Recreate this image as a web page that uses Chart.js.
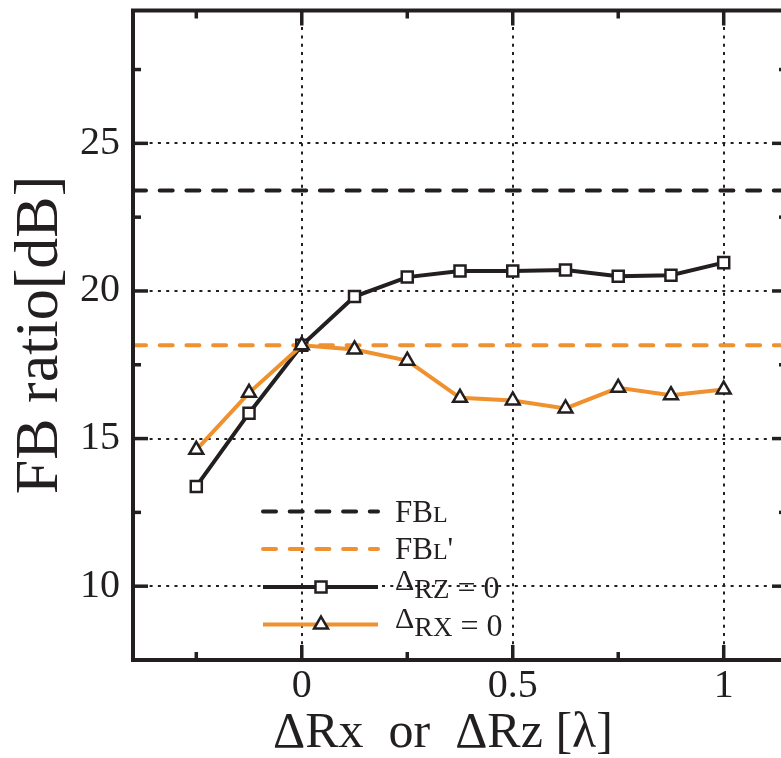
<!DOCTYPE html>
<html>
<head>
<meta charset="utf-8">
<script src="https://cdn.jsdelivr.net/npm/chart.js@4/dist/chart.umd.min.js"></script>
<style>
  html, body { margin: 0; padding: 0; background: #fff; overflow: hidden; }
  #wrap { width: 800px; height: 758px; }
</style>
</head>
<body>
<div id="wrap"><canvas id="c" width="800" height="758"></canvas></div>
<script>
// Offset along the axis, in wavelengths
const OFFSETS = [-0.25, -0.125, 0, 0.125, 0.25, 0.375, 0.5, 0.625, 0.75, 0.875, 1];
// FB ratio [dB] with ΔRz = 0 (sweeping ΔRx)
const FB_RZ0 = [13.38, 15.86, 18.16, 19.81, 20.47, 20.68, 20.68, 20.71, 20.50, 20.53, 20.96];
// FB ratio [dB] with ΔRx = 0 (sweeping ΔRz)
const FB_RX0 = [14.62, 16.55, 18.16, 18.02, 17.64, 16.38, 16.29, 16.02, 16.72, 16.47, 16.66];
// Reference levels
const FB_L = 23.4;
const FB_L_PRIME = 18.16;

const X_RANGE = [-0.4, 1.15];
const Y_RANGE = [7.5, 29.5];
const X_TICKS = [-0.25, 0, 0.25, 0.5, 0.75, 1];
const X_LABELED = [0, 0.5, 1];
const Y_TICKS = [10, 12.5, 15, 17.5, 20, 22.5, 25, 27.5];
const Y_LABELED = [10, 15, 20, 25];

const BLACK = '#231f20';
const ORANGE = '#f0912f';
const SERIF = "'Liberation Serif', 'Times New Roman', serif";

const toPts = (xs, ys) => xs.map((x, i) => ({ x, y: ys[i] }));
const hline = (v) => X_RANGE.map(x => ({ x, y: v }));

// Frame, inward tick marks, axis titles and legend
const decorations = {
  id: 'decorations',
  afterDatasetsDraw(chart) {
    const { ctx, chartArea: a, scales: { x, y } } = chart;
    ctx.save();
    ctx.strokeStyle = BLACK;
    ctx.lineCap = 'butt';
    ctx.lineWidth = 3.5;
    X_TICKS.forEach(v => {
      const px = x.getPixelForValue(v);
      const len = X_LABELED.includes(v) ? 15 : 8;
      ctx.beginPath();
      ctx.moveTo(px, a.bottom); ctx.lineTo(px, a.bottom - len);
      ctx.moveTo(px, a.top); ctx.lineTo(px, a.top + len);
      ctx.stroke();
    });
    Y_TICKS.forEach(v => {
      const py = y.getPixelForValue(v);
      const len = Y_LABELED.includes(v) ? 15 : 8;
      ctx.beginPath();
      ctx.moveTo(a.left, py); ctx.lineTo(a.left + len, py);
      ctx.stroke();
      ctx.beginPath();
      ctx.moveTo(a.right - len, py); ctx.lineTo(a.right, py);
      ctx.stroke();
    });
    // left, top and bottom edges (the right edge lies past the visible page)
    ctx.lineWidth = 4;
    ctx.lineCap = 'square';
    ctx.beginPath();
    ctx.moveTo(a.right, a.top); ctx.lineTo(a.left, a.top);
    ctx.lineTo(a.left, a.bottom); ctx.lineTo(a.right, a.bottom);
    ctx.stroke();
    ctx.restore();
  },
  afterDraw(chart) {
    const { ctx } = chart;
    ctx.save();
    ctx.fillStyle = BLACK;

    // x axis title
    ctx.font = `50px ${SERIF}`;
    ctx.textAlign = 'center';
    ctx.textBaseline = 'alphabetic';
    ctx.fillText('\u0394Rx  or  \u0394Rz [\u03bb]', 443, 747);

    // y axis title
    ctx.save();
    ctx.translate(57, 335);
    ctx.rotate(-Math.PI / 2);
    ctx.font = `62px ${SERIF}`;
    ctx.fillText('FB ratio[dB]', 0, 0);
    ctx.restore();

    // legend
    const ds = chart.data.datasets;
    const x0 = 263, x1 = 378, mx = 321, tx = 395;
    const rows = [511.5, 549, 587, 624.5];
    const runs = (parts, x, base) => {
      ctx.textAlign = 'left';
      parts.forEach(([t, size, dy]) => {
        ctx.font = `${size}px ${SERIF}`;
        ctx.fillText(t, x, base + (dy || 0));
        x += ctx.measureText(t).width;
      });
    };
    const texts = [
      [['FB', 31], ['L', 24]],
      [['FB', 31], ['L', 24], ["'", 31]],
      [['\u0394', 30, -8], ['R', 28], ['Z', 27], [' = 0', 32]],
      [['\u0394', 30, -8], ['R', 28], ['X', 27], [' = 0', 32]]
    ];
    ds.forEach((d, i) => {
      const yy = rows[i];
      ctx.save();
      ctx.strokeStyle = d.borderColor;
      ctx.lineWidth = d.borderWidth;
      ctx.lineCap = d.borderCapStyle || 'butt';
      ctx.setLineDash(d.borderDash || []);
      ctx.beginPath(); ctx.moveTo(x0, yy); ctx.lineTo(x1, yy); ctx.stroke();
      ctx.restore();
      if (d.pointRadius > 0) {
        ctx.save();
        ctx.fillStyle = d.pointBackgroundColor;
        ctx.strokeStyle = d.pointBorderColor;
        ctx.lineWidth = d.pointBorderWidth;
        ctx.beginPath();
        if (d.pointStyle === 'rect') {
          const s = Math.SQRT1_2 * d.pointRadius;
          ctx.rect(mx - s, yy - s, 2 * s, 2 * s);
        } else {
          const r = d.pointRadius;
          ctx.moveTo(mx, yy - r);
          ctx.lineTo(mx + r * Math.cos(Math.PI / 6), yy + r / 2);
          ctx.lineTo(mx - r * Math.cos(Math.PI / 6), yy + r / 2);
          ctx.closePath();
        }
        ctx.fill(); ctx.stroke();
        ctx.restore();
      }
      const base = i < 2 ? yy + 10 : yy + 11;
      runs(texts[i], tx, base);
    });
    ctx.restore();
  }
};

const gridColor = (labeled) => (c) => (c.tick && labeled.includes(c.tick.value) ? BLACK : 'rgba(0,0,0,0)');

new Chart(document.getElementById('c'), {
  type: 'line',
  data: {
    datasets: [
      { label: 'FBL', data: hline(FB_L), borderColor: BLACK, borderWidth: 4,
        borderDash: [13, 13.7], borderCapStyle: 'round', pointRadius: 0, order: 3 },
      { label: "FBL'", data: hline(FB_L_PRIME), borderColor: ORANGE, borderWidth: 4,
        borderDash: [13, 13.7], borderCapStyle: 'round', pointRadius: 0, order: 3 },
      { label: '\u0394Rz = 0', data: toPts(OFFSETS, FB_RZ0), borderColor: BLACK, borderWidth: 4,
        pointStyle: 'rect', pointRadius: 7.8, pointBackgroundColor: '#ffffff',
        pointBorderColor: BLACK, pointBorderWidth: 2.5, order: 2 },
      { label: '\u0394Rx = 0', data: toPts(OFFSETS, FB_RX0), borderColor: ORANGE, borderWidth: 4,
        pointStyle: 'triangle', pointRadius: 8, pointBackgroundColor: '#ffffff',
        pointBorderColor: BLACK, pointBorderWidth: 2.5, order: 1 }
    ]
  },
  options: {
    responsive: false,
    animation: false,
    events: [],
    layout: { padding: { left: 0, top: 9, right: 13, bottom: 0 } },
    plugins: { legend: { display: false }, tooltip: { enabled: false } },
    elements: { line: { tension: 0 } },
    scales: {
      x: {
        type: 'linear', min: X_RANGE[0], max: X_RANGE[1],
        afterBuildTicks: (s) => { s.ticks = X_TICKS.map(value => ({ value })); },
        afterFit: (s) => { s.height = 98; s.paddingLeft = 0; s.paddingRight = 0; },
        ticks: {
          autoSkip: false, maxRotation: 0, padding: 2, color: BLACK,
          font: { family: SERIF, size: 40 },
          callback: (v) => (X_LABELED.includes(v) ? String(v) : '')
        },
        grid: { drawTicks: false, lineWidth: 2, color: gridColor(X_LABELED) },
        border: { display: false, dash: [3, 5.3] }
      },
      y: {
        type: 'linear', min: Y_RANGE[0], max: Y_RANGE[1],
        afterBuildTicks: (s) => { s.ticks = Y_TICKS.map(value => ({ value })); },
        afterFit: (s) => { s.width = 133; s.paddingTop = 0; s.paddingBottom = 0; },
        ticks: {
          autoSkip: false, padding: 13, color: BLACK,
          font: { family: SERIF, size: 40 },
          callback: (v) => (Y_LABELED.includes(v) ? String(v) : '')
        },
        grid: { drawTicks: false, lineWidth: 2, color: gridColor(Y_LABELED) },
        border: { display: false, dash: [3, 5.3] }
      }
    }
  },
  plugins: [decorations]
});
</script>
</body>
</html>
